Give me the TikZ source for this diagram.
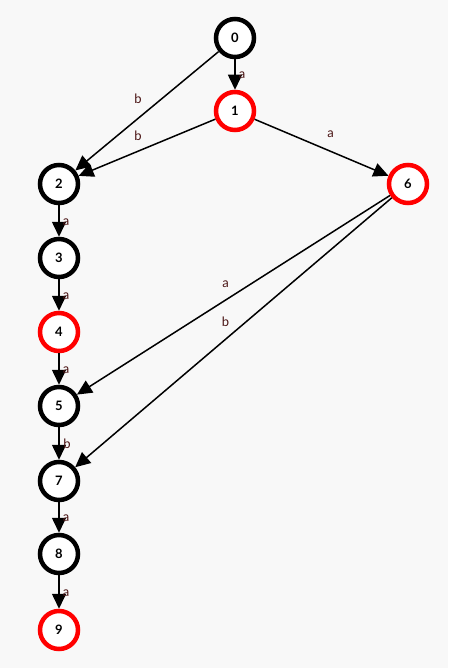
\documentclass[tikz,border=0pt]{standalone}
\usepackage{fontspec}
\setmainfont{Lato}
\usetikzlibrary{arrows.meta}
\definecolor{bgcol}{HTML}{F8F8F8}
\definecolor{lblcol}{HTML}{4A1414}
\begin{document}
\begin{tikzpicture}[
    x=1pt, y=-1pt,
    state/.style={circle, draw=black, fill=white, line width=4.5pt, minimum size=38pt, inner sep=0pt, font=\bfseries\fontsize{13}{13}\selectfont},
    accept/.style={state, draw=red},
    arrow/.style={-{Triangle[length=15pt,width=14pt]}, line width=1.5pt},
    lbl/.style={font=\fontsize{13}{13}\selectfont, text=lblcol, inner sep=0pt}
]

% Background
\fill[bgcol] (0,0) rectangle (448,668);
\useasboundingbox (0,0) rectangle (448,668);

% States
\node[state] (s0) at (235,38) {0};
\node[accept] (s1) at (235,111) {1};
\node[state] (s2) at (59,184) {2};
\node[accept] (s6) at (408,184) {6};
\node[state] (s3) at (59,258) {3};
\node[accept] (s4) at (59,332) {4};
\node[state] (s5) at (59,406) {5};
\node[state] (s7) at (59,481) {7};
\node[state] (s8) at (59,554) {8};
\node[accept] (s9) at (59,630) {9};

% Transitions
\draw[arrow] (s0) -- node[lbl, midway, xshift=7pt, yshift=-1pt] {a} (s1);
\draw[arrow] (s0) -- node[lbl, midway, xshift=-9pt, yshift=12pt] {b} (s2);
\draw[arrow] (s1) -- node[lbl, midway, xshift=-9pt, yshift=12pt] {b} (s2);
\draw[arrow] (s1) -- node[lbl, midway, xshift=9pt, yshift=13pt] {a} (s6);
\draw[arrow] (s2) -- node[lbl, midway, xshift=7pt, yshift=-1pt] {a} (s3);
\draw[arrow] (s3) -- node[lbl, midway, xshift=7pt, yshift=-1pt] {a} (s4);
\draw[arrow] (s4) -- node[lbl, midway, xshift=7pt, yshift=-1pt] {a} (s5);
\draw[arrow] (s6) -- node[lbl, midway, xshift=-8pt, yshift=11pt] {a} (s5);
\draw[arrow] (s5) -- node[lbl, midway, xshift=8pt, yshift=0pt] {b} (s7);
\draw[arrow] (s6) -- node[lbl, midway, xshift=-8pt, yshift=11pt] {b} (s7);
\draw[arrow] (s7) -- node[lbl, midway, xshift=7pt, yshift=-1pt] {a} (s8);
\draw[arrow] (s8) -- node[lbl, midway, xshift=7pt, yshift=-1pt] {a} (s9);

\end{tikzpicture}
\end{document}
